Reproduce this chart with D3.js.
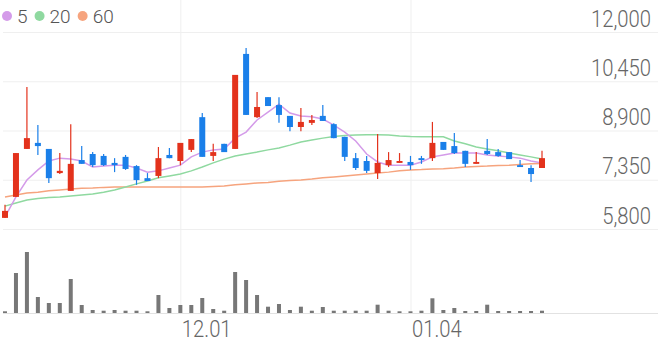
<!DOCTYPE html>
<html><head><meta charset="utf-8">
<script src="https://cdn.jsdelivr.net/npm/d3@7"></script>
<style>
html,body{margin:0;padding:0;background:#fff;}
svg{display:block;font-family:Roboto,"Noto Sans",sans-serif;}
</style></head>
<body><svg id="c" width="658" height="342"></svg>
<script>
const dates = ["11.09","11.10","11.11","11.12","11.13","11.16","11.17","11.18","11.19","11.20","11.23","11.24","11.25","11.26","11.27","11.30",
"12.01","12.02","12.03","12.04","12.07","12.08","12.09","12.10","12.11","12.14","12.15","12.16","12.17","12.18","12.21","12.22","12.23","12.24","12.28","12.29","12.30",
"01.04","01.05","01.06","01.07","01.08","01.11","01.12","01.13","01.14","01.15","01.18","01.19","01.20"];
const open  = [6150,6810,8320,8510,8320,7560,7000,7970,8160,8100,7880,8070,7780,7400,7470,8130,7940,8290,9320,8100,8480,8320,11310,9320,9950,9700,9360,9010,9140,9360,9100,8700,8030,7940,7560,7810,7880,7910,8030,8030,8540,8410,8260,7850,8260,8220,8220,7810,7720,7720];
const high  = [6560,8190,10270,9070,8320,8190,9100,8410,8220,8160,8030,8130,7810,7560,8380,8350,8510,8630,9450,8480,8480,10650,11500,10110,9950,9950,9360,9610,9390,9700,9130,8700,8190,8100,8790,8220,8190,8100,8100,9170,8540,8820,8260,8220,8630,8320,8220,7970,7810,8260];
const low   = [6150,6810,8320,8130,7250,7530,7000,7850,7750,7780,7590,7660,7190,7310,7400,8030,7810,8220,8070,7940,8220,8320,9390,9290,9670,9140,8880,8880,9070,9200,8660,7940,7660,7560,7370,7750,7880,7660,7850,7940,8290,8160,7750,7850,8130,8070,8000,7750,7280,7720];
const close = [6370,8190,8660,8410,7400,7630,7850,7850,7810,7810,7810,7690,7340,7310,8030,8030,8510,8630,8070,8220,8220,10650,9390,9640,9670,9390,9010,9170,9230,9200,8660,8070,7720,7630,7880,7970,7940,7810,7970,8510,8290,8190,7850,7910,8160,8100,8000,7750,7530,8030];
const ma5   = [6180,6810,7340,7660,7940,8030,8000,7940,7750,7780,7810,7810,7720,7590,7630,7720,7810,8070,8220,8290,8320,8660,8850,9230,9480,9730,9450,9360,9330,9260,9070,8850,8570,8160,7910,7810,7810,7810,7910,8070,8130,8190,8190,8190,8130,8100,8070,8030,7940,7880];
const ma20  = [6520,6620,6710,6760,6790,6810,6840,6870,6900,6960,7030,7120,7220,7310,7410,7470,7530,7630,7750,7880,8000,8100,8160,8220,8290,8350,8440,8540,8600,8660,8710,8740,8760,8770,8770,8760,8730,8710,8700,8700,8700,8570,8480,8380,8320,8260,8190,8130,8070,8000];
const ma60  = [6810,6870,6930,6960,7000,7030,7060,7080,7090,7110,7120,7120,7120,7120,7120,7120,7120,7120,7120,7140,7150,7190,7220,7250,7260,7300,7330,7340,7370,7410,7440,7470,7500,7530,7560,7590,7630,7660,7670,7690,7700,7720,7750,7770,7780,7800,7810,7830,7850,7860];
const volume = [17000,400000,610000,160000,100000,100000,340000,80000,30000,23000,30000,23000,23000,17000,180000,50000,80000,80000,150000,40000,23000,410000,330000,180000,63000,90000,30000,63000,23000,60000,23000,23000,23000,23000,83000,23000,17000,17000,23000,147000,30000,50000,20000,20000,83000,20000,20000,20000,20000,23000];
const yTicks = [5800,7350,8900,10450,12000];
const xTickLabels = ["12.01","01.04"];
const maSeries = [{name:"5",values:ma5,color:"#d49be9"},{name:"20",values:ma20,color:"#8fd9a0"},{name:"60",values:ma60,color:"#f6a47e"}];

const UP="#e3321c", DOWN="#1a7fe9";
const svg = d3.select("#c");
const x = d3.scalePoint().domain(dates).range([5,542]);
const y = d3.scaleLinear().domain([5800,12000]).range([229,32]);
const yv = d3.scaleLinear().domain([0,700000]).range([313,243]);
const SX = 0.88;

// y axis + horizontal grid
const ya = svg.append("g").attr("transform","translate(658,0)")
  .call(d3.axisLeft(y).tickValues(yTicks).tickSize(655).tickFormat(d3.format(",")));
ya.select(".domain").remove();
ya.selectAll("line").attr("stroke","#efefef");
ya.selectAll("text").attr("x",-7/SX).attr("y",-6).attr("dy",0).attr("text-anchor","end")
  .attr("transform",`scale(${SX},1)`)
  .attr("fill","#666").style("font-size","23px").style("font-weight","300").style("font-family","Roboto");

// x axis + vertical grid
const xa = svg.append("g").attr("transform","translate(0,313)")
  .call(d3.axisBottom(x).tickValues(xTickLabels).tickSize(-313));
xa.select(".domain").remove();
xa.selectAll("line").attr("stroke","#efefef");
xa.selectAll("text").attr("x",1/SX).attr("y",24).attr("dy",0).attr("text-anchor","start")
  .attr("transform",`scale(${SX},1)`)
  .attr("fill","#666").style("font-size","23px").style("font-weight","300").style("font-family","Roboto");

// volume baseline
svg.append("line").attr("x1",3).attr("x2",658).attr("y1",yv(0)+0.5).attr("y2",yv(0)+0.5).attr("stroke","#e2e2e2");

// volume bars
svg.append("g").selectAll("rect").data(volume).join("rect")
  .attr("x",(d,i)=>x(dates[i])-2).attr("width",4)
  .attr("y",d=>yv(d)).attr("height",d=>yv(0)-yv(d)).attr("fill","#777");

// MA lines
const line = d3.line().x((d,i)=>x(dates[i])).y(d=>y(d));
svg.append("g").selectAll("path").data(maSeries.slice().reverse()).join("path")
  .attr("d",s=>line(s.values)).attr("fill","none").attr("stroke",s=>s.color).attr("stroke-width",1.5);

// candles
const cg = svg.append("g").selectAll("g").data(dates).join("g");
cg.append("line").attr("x1",d=>x(d)).attr("x2",d=>x(d))
  .attr("y1",(d,i)=>y(high[i])).attr("y2",(d,i)=>y(low[i]))
  .attr("stroke",(d,i)=>close[i]>=open[i]?UP:DOWN).attr("stroke-width",1.2);
cg.append("rect").attr("x",d=>x(d)-3).attr("width",6)
  .attr("y",(d,i)=>y(Math.max(open[i],close[i])))
  .attr("height",(d,i)=>Math.max(1.5,Math.abs(y(open[i])-y(close[i]))))
  .attr("fill",(d,i)=>close[i]>=open[i]?UP:DOWN);

// legend
const lg = svg.append("g").attr("transform","translate(0,16)");
let lx = 7;
maSeries.forEach(s=>{
  lg.append("circle").attr("cx",lx).attr("cy",0).attr("r",5).attr("fill",s.color);
  const t = lg.append("text").attr("x",lx+10).attr("y",7).text(s.name)
    .attr("fill","#555").style("font-size","19px").style("font-weight","300").style("font-family","Roboto");
  lx += 10 + t.node().getComputedTextLength() + 12;
});
</script></body></html>
